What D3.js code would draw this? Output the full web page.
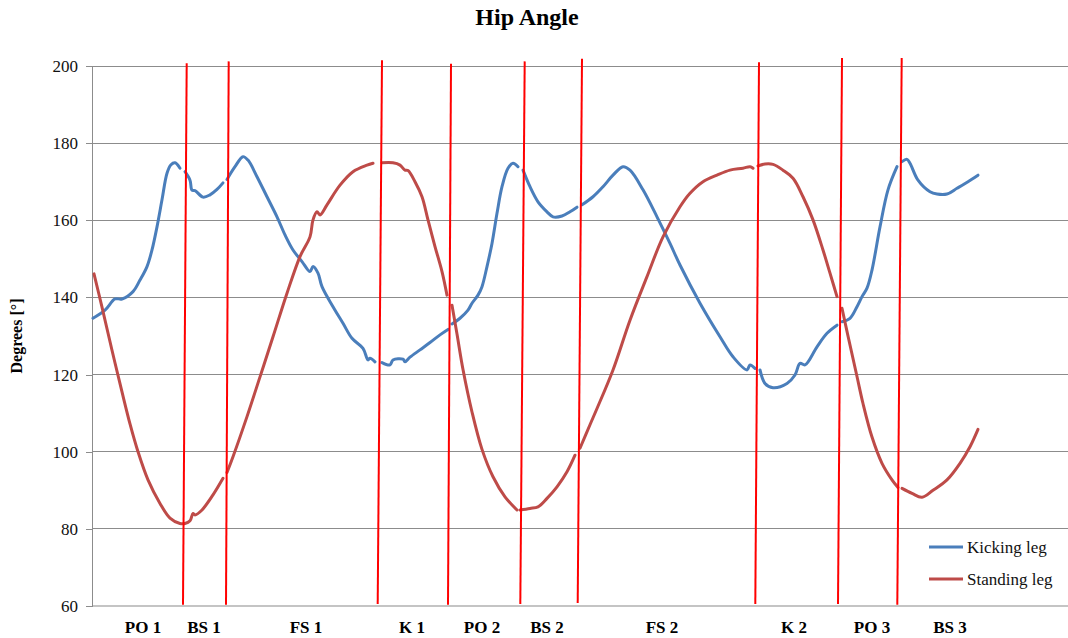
<!DOCTYPE html>
<html>
<head>
<meta charset="utf-8">
<script src="https://cdn.jsdelivr.net/npm/d3@7"></script>
<style>
  html, body { margin: 0; padding: 0; background: #fff; }
  svg { display: block; }
  text { font-family: "Liberation Serif", "Times New Roman", serif; }
</style>
</head>
<body>
<svg id="chart" width="1068" height="638"></svg>
<script>
// Hip angle (degrees) over time, in samples. Each series is split into
// phase segments: [sample, degrees].
const kickingLeg = [
  [[1,134.6],[13,136.7],[23,139.6],[30,139.6],[41,141.5],[48,144.5],[55,148],[60,152.3],[65,158.3],[70,165.3],[75,172.2],[79,174.4],[83,174.9],[88,173.5]],
  [[93,172.6],[98,170.4],[100,167.8],[103,167.7],[111,166],[118,166.6],[125,168],[131,169.7]],
  [[135,170.6],[143,173.9],[151,176.5],[156,175.6],[165,171.3],[175,166.1],[185,160.9],[193,156.2],[201,152.3],[210,149.3],[218,146.7],[221,148],[226,146.3],[230,142.8],[241,137.6],[251,133.3],[260,129.4],[271,126.8],[276,123.8],[278,124.2],[283,123.3]],
  [[290,123.1],[298,122.5],[301,123.8],[311,124],[313,123.3],[318,124.5],[328,126.4],[338,128.3],[348,130.3],[356,131.7]],
  [[360,133.1],[368,134.6],[376,136.7],[380,138.5],[386,140.6],[390,142.8],[395,148],[400,154],[405,161.8],[410,168.7],[416,173.5],[421,174.8],[426,173.9]],
  [[431,173],[438,168.7],[446,164.8],[455,162.2],[461,160.9],[470,161.1],[478,162.2],[485,163.4]],
  [[490,164],[501,166.1],[511,168.7],[521,171.7],[531,173.9],[538,173],[551,167.9],[565,160.9],[578,154],[588,148.4],[608,138.5],[628,129.8],[641,124.6],[655,121.2],[658,122.5],[663,121.6]],
  [[668,121.2],[673,117.7],[681,116.6],[695,117.7],[703,119.9],[708,122.9],[713,122.5],[725,127.2],[735,130.7],[745,132.8]],
  [[750,133.7],[758,134.6],[765,137.6],[770,140.2],[775,142.4],[780,147.1],[788,158.3],[796,167.9],[805,173.9]],
  [[810,175.2],[815,175.8],[818,174.8],[826,170.4],[838,167.4],[845,166.8],[855,166.8],[865,168.3],[876,170],[886,171.7]]
];

const standingLeg = [
  [[2,146.1],[10,137.5],[20,126.3],[30,115.5],[38,107.2],[46,100],[56,92.7],[68,86.6],[78,82.8],[88,81.4],[93,81.4],[98,82.1],[101,84],[103,83.6],[110,84.9],[121,88.8],[131,93.1]],
  [[135,94.6],[141,98.7],[155,109.1],[168,119.4],[181,129.8],[195,141.1],[208,150.6],[218,155.7],[221,160.1],[225,162.2],[228,161.4],[235,164],[248,169.1],[261,172.6],[275,174.3],[281,174.8]],
  [[290,174.9],[301,174.9],[308,174.3],[313,173],[316,172.9],[323,170],[330,166.1],[336,160.1],[343,153.2],[350,146.7],[355,140.6]],
  [[360,138],[365,130.5],[371,121.3],[380,110.3],[390,100.6],[401,93.5],[413,88.3],[425,84.9]],
  [[428,84.9],[438,85.3],[446,85.7],[455,87.9],[465,90.9],[475,94.8],[483,99.1]],
  [[488,100.9],[498,107],[505,111.2],[521,121.2],[538,134.1],[555,145.4],[571,155.7],[588,163.5],[598,167],[611,170],[625,171.7],[638,173],[651,173.5],[658,173.9],[661,173.5]],
  [[666,174.1],[673,174.6],[681,174.5],[691,173],[701,170.9],[711,166.1],[721,160.1],[731,152.3],[738,146.3],[745,140.2]],
  [[750,137.2],[756,130],[765,119.5],[771,112.5],[780,103.8],[790,97],[800,92.7],[806,90.7]],
  [[810,90.5],[820,89.2],[830,88.2],[841,90],[855,92.7],[868,97],[878,101.3],[886,105.8]]
];

// Phase boundary markers (hand-drawn, slightly slanted): sample at the
// bottom and top, and the angle where each stroke ends.
const boundaryBottom = [91, 134, 285.7, 356, 428.3, 485.7, 663.3, 746, 805.3];
const boundaryTop    = [94.7, 136.7, 290, 359, 432.7, 490, 667, 750, 809.7];
const boundaryLow    = [60.3, 60.3, 60.5, 60.3, 60.5, 60.8, 60.5, 60.5, 60.3];
const boundaryHigh   = [200.7, 201.2, 201.5, 200.6, 201.2, 201.9, 201, 202.1, 202.1];

const phaseLabels = ["PO 1","BS 1","FS 1","K 1","PO 2","BS 2","FS 2","K 2","PO 3","BS 3"];
const phaseCenters = [51, 112, 214, 320, 390, 455, 570, 702, 780, 858];

const yTicks = [60, 80, 100, 120, 140, 160, 180, 200];
const seriesNames = ["Kicking leg", "Standing leg"];
const seriesColors = ["#4a7ebb", "#be4b48"];

const svg = d3.select("#chart");
const plotLeft = 92, plotRight = 1068, plotTop = 66, plotBottom = 606;

const x = d3.scaleLinear().domain([0, 976]).range([plotLeft, plotRight]);
const y = d3.scaleLinear().domain([60, 200]).range([plotBottom, plotTop]);

// Title
svg.append("text")
  .attr("x", 527).attr("y", 25)
  .attr("text-anchor", "middle")
  .attr("font-size", 24).attr("font-weight", "bold")
  .text("Hip Angle");

// Y axis title
svg.append("text")
  .attr("transform", `translate(22,${(plotTop + plotBottom) / 2}) rotate(-90)`)
  .attr("text-anchor", "middle")
  .attr("font-size", 16).attr("font-weight", "bold")
  .text("Degrees [°]");

// Horizontal gridlines
svg.append("g")
  .selectAll("line")
  .data(yTicks.filter(d => d > 60))
  .join("line")
  .attr("x1", plotLeft).attr("x2", plotRight)
  .attr("y1", d => y(d)).attr("y2", d => y(d))
  .attr("stroke", "#8c8c8c").attr("stroke-width", 1)
  .attr("shape-rendering", "crispEdges");

// Baseline at 60
svg.append("line")
  .attr("x1", plotLeft).attr("x2", plotRight)
  .attr("y1", y(60)).attr("y2", y(60))
  .attr("stroke", "#c4c4c4").attr("stroke-width", 2);

// Y axis
const yAxis = svg.append("g")
  .attr("transform", `translate(${plotLeft},0)`)
  .call(d3.axisLeft(y).tickValues(yTicks).tickSize(6).tickPadding(8).tickSizeOuter(0));
yAxis.select(".domain").attr("stroke", "#8c8c8c").attr("shape-rendering", "crispEdges");
yAxis.selectAll(".tick line").attr("stroke", "#8c8c8c").attr("shape-rendering", "crispEdges");
yAxis.selectAll(".tick text")
  .attr("font-family", "'Liberation Serif', 'Times New Roman', serif")
  .attr("font-size", 17).attr("fill", "#111");

// Series lines
const line = d3.line()
  .x(d => x(d[0])).y(d => y(d[1]))
  .curve(d3.curveCatmullRom.alpha(0.5));

[kickingLeg, standingLeg].forEach((segments, i) => {
  svg.append("g")
    .selectAll("path")
    .data(segments)
    .join("path")
    .attr("d", line)
    .attr("fill", "none")
    .attr("stroke", seriesColors[i])
    .attr("stroke-width", 3)
    .attr("stroke-linecap", "round")
    .attr("stroke-linejoin", "round");
});

// Phase boundary strokes
svg.append("g")
  .selectAll("line")
  .data(boundaryBottom.map((b, i) => ({ b, t: boundaryTop[i], lo: boundaryLow[i], hi: boundaryHigh[i] })))
  .join("line")
  .attr("x1", d => x(d.b)).attr("y1", d => y(d.lo))
  .attr("x2", d => x(d.t)).attr("y2", d => y(d.hi))
  .attr("stroke", "#ff0000").attr("stroke-width", 2);

// Phase labels
svg.append("g")
  .selectAll("text")
  .data(phaseLabels)
  .join("text")
  .attr("x", (d, i) => x(phaseCenters[i]))
  .attr("y", 633)
  .attr("text-anchor", "middle")
  .attr("font-size", 17).attr("font-weight", "bold")
  .text(d => d);

// Legend
const legend = svg.append("g");
seriesNames.forEach((name, i) => {
  const ly = 547 + i * 32;
  legend.append("line")
    .attr("x1", 929).attr("x2", 963)
    .attr("y1", ly).attr("y2", ly)
    .attr("stroke", seriesColors[i]).attr("stroke-width", 3);
  legend.append("text")
    .attr("x", 967).attr("y", ly + 6)
    .attr("font-size", 17).attr("fill", "#111")
    .text(name);
});
</script>
</body>
</html>
